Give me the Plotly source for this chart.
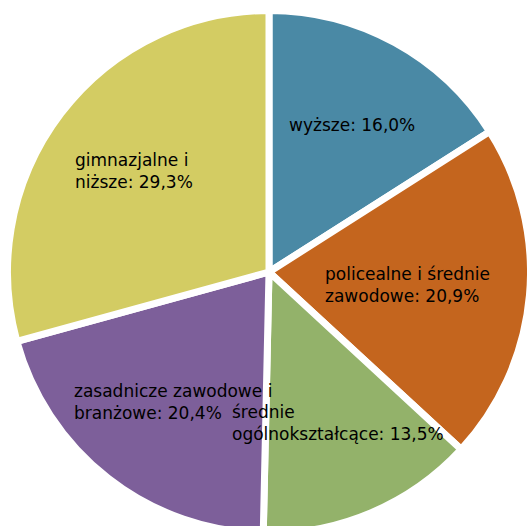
import plotly.graph_objects as go

labels = ["wyższe", "policealne i średnie zawodowe", "średnie ogólnokształcące",
          "zasadnicze zawodowe i branżowe", "gimnazjalne i niższe"]
values = [16.0, 20.9, 13.5, 20.4, 29.3]
label_lines = [["wyższe: 16,0%"],
               ["policealne i średnie", "zawodowe: 20,9%"],
               ["średnie", "ogólnokształcące: 13,5%"],
               ["zasadnicze zawodowe i", "branżowe: 20,4%"],
               ["gimnazjalne i", "niższe: 29,3%"]]
colors = ["#4a89a5", "#c4651e", "#93b26a", "#7d5f9a", "#d3cc63"]

W, H = 540, 540
cx, cy, r = 269, 272, 261.5

fig = go.Figure(go.Pie(
    labels=labels, values=values, sort=False, direction="clockwise", rotation=0,
    marker=dict(colors=colors, line=dict(color="white", width=7)),
    textinfo="none", hoverinfo="skip", showlegend=False,
    domain=dict(x=[(cx - r) / W, (cx + r) / W], y=[(H - (cy + r)) / H, (H - (cy - r)) / H]),
))

# label anchor (left edge, vertical middle) in pixels
label_pos = [(287, 125), (323, 285), (230, 423), (72, 402), (73, 171)]
for lines, (px, py) in zip(label_lines, label_pos):
    fig.add_annotation(text="<br>".join(lines), x=px / W, y=(H - py) / H,
                       xref="paper", yref="paper", xanchor="left", yanchor="middle",
                       align="left", showarrow=False,
                       font=dict(family="DejaVu Sans", size=17, color="#000000"))

fig.update_layout(width=W, height=H, margin=dict(l=0, r=0, t=0, b=0),
                  paper_bgcolor="white", plot_bgcolor="white")

fig.write_html("out.html", config={"displayModeBar": False},
               post_script="document.documentElement.style.overflow='hidden';"
                           "document.body.style.overflow='hidden';"
                           "document.body.style.margin='0';")
